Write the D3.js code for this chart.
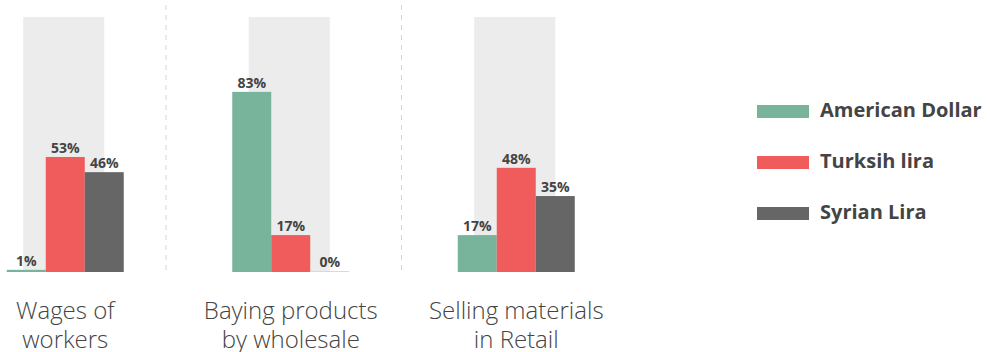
<!DOCTYPE html>
<html>
<head>
  <meta charset="utf-8">
  <title>Currency use by activity</title>
  <script src="https://d3js.org/d3.v7.min.js"></script>
  <style>
    body { margin: 0; background: #fff; }
    .value { font-family: "Open Sans", sans-serif; font-weight: 700; font-size: 14px; fill: #444; }
    .cat { font-family: "Open Sans", sans-serif; font-weight: 300; font-size: 24px; fill: #444; }
    .legend text { font-family: "Open Sans", sans-serif; font-weight: 700; font-size: 20px; fill: #444; }
    .sep { stroke: #d6d6d6; stroke-dasharray: 5 5; stroke-width: 1; }
  </style>
</head>
<body>
  <svg width="990" height="352"></svg>

  <script>
    // categories and series
    var categories = ["Wages of workers", "Baying products by wholesale", "Selling materials in Retail"];
    var categoryLines = [["Wages of", "workers"], ["Baying products", "by wholesale"], ["Selling materials", "in Retail"]];
    var series = ["American Dollar", "Turksih lira", "Syrian Lira"];
    var colors = ["#78b39c", "#f05b5b", "#666666"];

    var dollar = [1, 83, 17];
    var turkish = [53, 17, 48];
    var syrian = [46, 0, 35];

    var data = categories.map(function(c, i) {
      return { cat: c, lines: categoryLines[i], values: [dollar[i], turkish[i], syrian[i]] };
    });

    var baseY = 272;
    var topY = 17;

    var svg = d3.select("svg");

    var x0 = d3.scaleBand()
      .domain(categories)
      .range([-47.5, 629])
      .padding(0);

    var x1 = d3.scaleBand()
      .domain(series)
      .range([-58.5, 58.5]);

    var y = d3.scaleLinear()
      .domain([0, 117.5])
      .range([baseY, topY]);

    // dashed separators between groups
    svg.selectAll(".sep")
      .data(categories.slice(1))
      .enter()
      .append("line")
      .attr("class", "sep")
      .attr("x1", function(d, i) { return x0(d) - (i === 0 ? 12 : 2); })
      .attr("x2", function(d, i) { return x0(d) - (i === 0 ? 12 : 2); })
      .attr("y1", 5)
      .attr("y2", baseY);

    var groups = svg.selectAll(".group")
      .data(data)
      .enter()
      .append("g")
      .attr("class", "group")
      .attr("transform", function(d) { return "translate(" + (x0(d.cat) + x0.bandwidth() / 2) + ",0)"; });

    // light background column
    groups.append("rect")
      .attr("x", -42)
      .attr("y", y(117.5))
      .attr("width", 81)
      .attr("height", baseY - y(117.5))
      .attr("fill", "#ececec");

    groups.selectAll(".bar")
      .data(function(d) { return d.values.map(function(v, i) { return { key: series[i], value: v, i: i }; }); })
      .enter()
      .append("rect")
      .attr("class", "bar")
      .attr("x", function(d) { return x1(d.key); })
      .attr("y", function(d) { return Math.min(y(d.value), baseY - 1); })
      .attr("width", x1.bandwidth())
      .attr("height", function(d) { return Math.max(baseY - y(d.value), 1); })
      .attr("fill", function(d) { return d.value === 0 ? "#d9d9d9" : colors[d.i]; });

    groups.selectAll(".value")
      .data(function(d) { return d.values.map(function(v, i) { return { key: series[i], value: v }; }); })
      .enter()
      .append("text")
      .attr("class", "value")
      .attr("x", function(d) { return x1(d.key) + x1.bandwidth() / 2; })
      .attr("y", function(d) { return Math.min(y(d.value), baseY - 1) - 4; })
      .attr("text-anchor", "middle")
      .text(function(d) { return d.value + "%"; });

    var labels = groups.append("text")
      .attr("class", "cat")
      .attr("text-anchor", "middle")
      .attr("y", 319);

    labels.selectAll("tspan")
      .data(function(d) { return d.lines; })
      .enter()
      .append("tspan")
      .attr("x", 0)
      .attr("dy", function(d, i) { return i === 0 ? 0 : 29; })
      .text(function(d) { return d; });

    // legend
    var legend = svg.append("g")
      .attr("class", "legend")
      .attr("transform", "translate(757,105)");

    var rows = legend.selectAll("g")
      .data(series)
      .enter()
      .append("g")
      .attr("transform", function(d, i) { return "translate(0," + (i * 51) + ")"; });

    rows.append("rect")
      .attr("width", 52)
      .attr("height", 13)
      .attr("fill", function(d, i) { return colors[i]; });

    rows.append("text")
      .attr("x", 63)
      .attr("y", 12)
      .text(function(d) { return d; });
  </script>
</body>
</html>
